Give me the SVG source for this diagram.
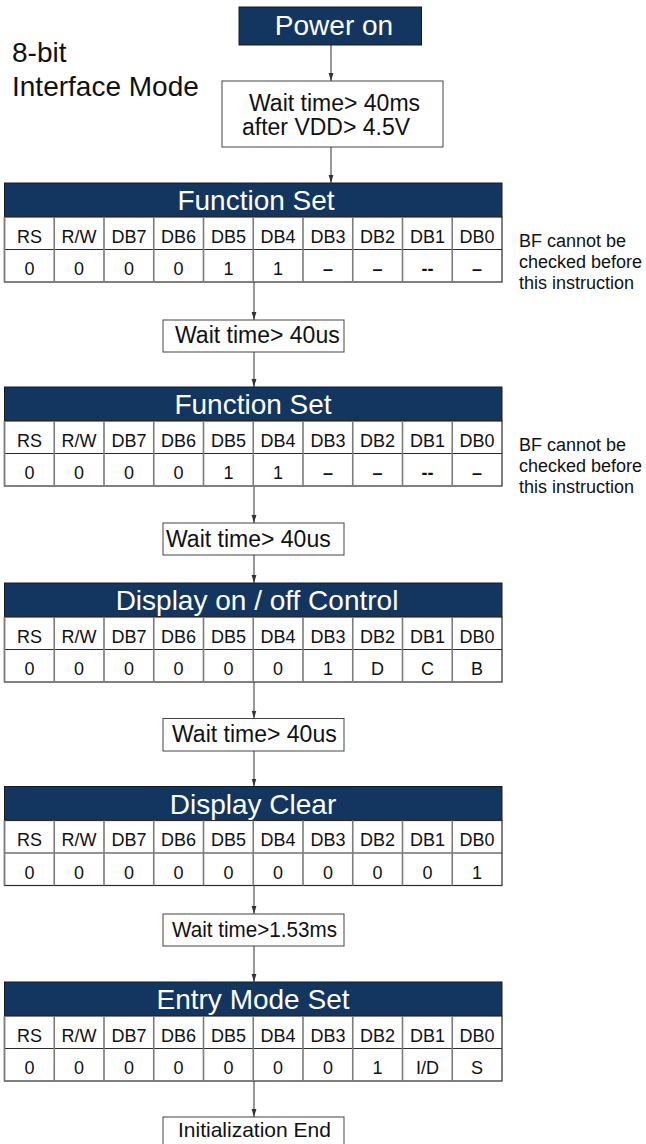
<svg xmlns="http://www.w3.org/2000/svg" xmlns:xlink="http://www.w3.org/1999/xlink" width="646" height="1144" viewBox="0 0 646 1144">
<style>
text{font-family:"Liberation Sans",Arial,sans-serif;fill:#111}
.big{font-size:28px}
.ttl{font-size:28px;fill:#fff;text-anchor:middle}
.pw{font-size:28px;fill:#fff;text-anchor:middle}
.wt{font-size:23px}
.lb{font-size:18px;text-anchor:middle}
.dash{font-weight:bold}
.note{font-size:18px}
.box{fill:#fff;stroke:#444;stroke-width:1}
.hdr{fill:#12365f;stroke:#1a1a1a;stroke-width:1}
.conn{stroke:#333;stroke-width:1;fill:none;marker-end:url(#arr)}
</style>
<defs>
<marker id="arr" markerUnits="userSpaceOnUse" markerWidth="8" markerHeight="6" refX="8" refY="3" orient="auto"><path d="M0,0.6 L8,3 L0,5.4 z" fill="#333"/></marker>
<g id="tbl">
<rect class="hdr" x="4.5" y="0" width="497.5" height="34"/>
<rect x="4.5" y="34" width="497.5" height="65" fill="#fff" stroke="#2a2a2a" stroke-width="1.2"/>
<line x1="4.5" y1="66.5" x2="502" y2="66.5" stroke="#2a2a2a" stroke-width="1.2"/>
<path d="M4.5,34V99M54.25,34V99M104,34V99M153.75,34V99M203.5,34V99M253.25,34V99M303,34V99M352.75,34V99M402.5,34V99M452.25,34V99" stroke="#7c7c7c" stroke-width="1.6"/>
<text class="lb" x="29.4" y="59.5">RS</text>
<text class="lb" x="79.1" y="59.5">R/W</text>
<text class="lb" x="128.9" y="59.5">DB7</text>
<text class="lb" x="178.6" y="59.5">DB6</text>
<text class="lb" x="228.4" y="59.5">DB5</text>
<text class="lb" x="278.1" y="59.5">DB4</text>
<text class="lb" x="327.9" y="59.5">DB3</text>
<text class="lb" x="377.6" y="59.5">DB2</text>
<text class="lb" x="427.4" y="59.5">DB1</text>
<text class="lb" x="477.1" y="59.5">DB0</text>
</g>
</defs>
<rect width="646" height="1144" fill="#fff"/>
<text class="big" x="12" y="62">8-bit</text>
<text class="big" x="12" y="96">Interface Mode</text>

<g id="connectors">
<line class="conn" x1="331" y1="45" x2="331" y2="81"/>
<line class="conn" x1="331" y1="147" x2="331" y2="183"/>
<line class="conn" x1="254" y1="282" x2="254" y2="320"/>
<line class="conn" x1="254" y1="352" x2="254" y2="387"/>
<line class="conn" x1="254" y1="487" x2="254" y2="523"/>
<line class="conn" x1="254" y1="555" x2="254" y2="583"/>
<line class="conn" x1="254" y1="682" x2="254" y2="718.5"/>
<line class="conn" x1="254" y1="751" x2="254" y2="786.5"/>
<line class="conn" x1="254" y1="886" x2="254" y2="914"/>
<line class="conn" x1="254" y1="946" x2="254" y2="982"/>
<line class="conn" x1="254" y1="1081" x2="254" y2="1117"/>
</g>

<g id="power-on">
<rect class="hdr" x="239" y="7" width="182.5" height="38"/>
<text class="pw" x="334" y="35">Power on</text>
</g>

<g id="wait-vdd">
<rect class="box" x="222" y="81" width="221" height="66"/>
<text class="wt" x="249" y="111">Wait time&gt; 40ms</text>
<text class="wt" x="242" y="135">after VDD&gt; 4.5V</text>
</g>

<g id="function-set-1" transform="translate(0,183)">
<use xlink:href="#tbl"/>
<text class="ttl" x="256" y="27">Function Set</text>
<text class="lb" x="29.4" y="92">0</text>
<text class="lb" x="79.1" y="92">0</text>
<text class="lb" x="128.9" y="92">0</text>
<text class="lb" x="178.6" y="92">0</text>
<text class="lb" x="228.4" y="92">1</text>
<text class="lb" x="278.1" y="92">1</text>
<text class="lb dash" x="327.9" y="92">–</text>
<text class="lb dash" x="377.6" y="92">–</text>
<text class="lb dash" x="427.4" y="92">--</text>
<text class="lb dash" x="477.1" y="92">–</text>
<text class="note" x="519" y="64">BF cannot be</text>
<text class="note" x="519" y="85">checked before</text>
<text class="note" x="519" y="106">this instruction</text>
</g>

<g id="wait-1">
<rect class="box" x="163" y="320" width="181" height="32"/>
<text class="wt" x="175" y="343">Wait time&gt; 40us</text>
</g>

<g id="function-set-2" transform="translate(0,387)">
<use xlink:href="#tbl"/>
<text class="ttl" x="253" y="27">Function Set</text>
<text class="lb" x="29.4" y="92">0</text>
<text class="lb" x="79.1" y="92">0</text>
<text class="lb" x="128.9" y="92">0</text>
<text class="lb" x="178.6" y="92">0</text>
<text class="lb" x="228.4" y="92">1</text>
<text class="lb" x="278.1" y="92">1</text>
<text class="lb dash" x="327.9" y="92">–</text>
<text class="lb dash" x="377.6" y="92">–</text>
<text class="lb dash" x="427.4" y="92">--</text>
<text class="lb dash" x="477.1" y="92">–</text>
<text class="note" x="519" y="64">BF cannot be</text>
<text class="note" x="519" y="85">checked before</text>
<text class="note" x="519" y="106">this instruction</text>
</g>

<g id="wait-2">
<rect class="box" x="163" y="523" width="181" height="32"/>
<text class="wt" x="166" y="546.5">Wait time&gt; 40us</text>
</g>

<g id="display-on-off" transform="translate(0,583)">
<use xlink:href="#tbl"/>
<text class="ttl" x="257" y="27">Display on / off Control</text>
<text class="lb" x="29.4" y="92">0</text>
<text class="lb" x="79.1" y="92">0</text>
<text class="lb" x="128.9" y="92">0</text>
<text class="lb" x="178.6" y="92">0</text>
<text class="lb" x="228.4" y="92">0</text>
<text class="lb" x="278.1" y="92">0</text>
<text class="lb" x="327.9" y="92">1</text>
<text class="lb" x="377.6" y="92">D</text>
<text class="lb" x="427.4" y="92">C</text>
<text class="lb" x="477.1" y="92">B</text>
</g>

<g id="wait-3">
<rect class="box" x="163" y="718.5" width="181" height="32.5"/>
<text class="wt" x="172" y="742">Wait time&gt; 40us</text>
</g>

<g id="display-clear" transform="translate(0,786.5)">
<use xlink:href="#tbl"/>
<text class="ttl" x="253" y="27">Display Clear</text>
<text class="lb" x="29.4" y="92">0</text>
<text class="lb" x="79.1" y="92">0</text>
<text class="lb" x="128.9" y="92">0</text>
<text class="lb" x="178.6" y="92">0</text>
<text class="lb" x="228.4" y="92">0</text>
<text class="lb" x="278.1" y="92">0</text>
<text class="lb" x="327.9" y="92">0</text>
<text class="lb" x="377.6" y="92">0</text>
<text class="lb" x="427.4" y="92">0</text>
<text class="lb" x="477.1" y="92">1</text>
</g>

<g id="wait-4">
<rect class="box" x="163" y="914" width="181" height="32"/>
<text class="wt" x="172" y="937" style="font-size:22px" textLength="165" lengthAdjust="spacingAndGlyphs">Wait time&gt;1.53ms</text>
</g>

<g id="entry-mode-set" transform="translate(0,982)">
<use xlink:href="#tbl"/>
<text class="ttl" x="253" y="27">Entry Mode Set</text>
<text class="lb" x="29.4" y="92">0</text>
<text class="lb" x="79.1" y="92">0</text>
<text class="lb" x="128.9" y="92">0</text>
<text class="lb" x="178.6" y="92">0</text>
<text class="lb" x="228.4" y="92">0</text>
<text class="lb" x="278.1" y="92">0</text>
<text class="lb" x="327.9" y="92">0</text>
<text class="lb" x="377.6" y="92">1</text>
<text class="lb" x="427.4" y="92">I/D</text>
<text class="lb" x="477.1" y="92">S</text>
</g>

<g id="init-end">
<rect class="box" x="163" y="1117" width="181" height="34"/>
<text class="wt" x="178" y="1136.5" style="font-size:21px">Initialization End</text>
</g>
</svg>
